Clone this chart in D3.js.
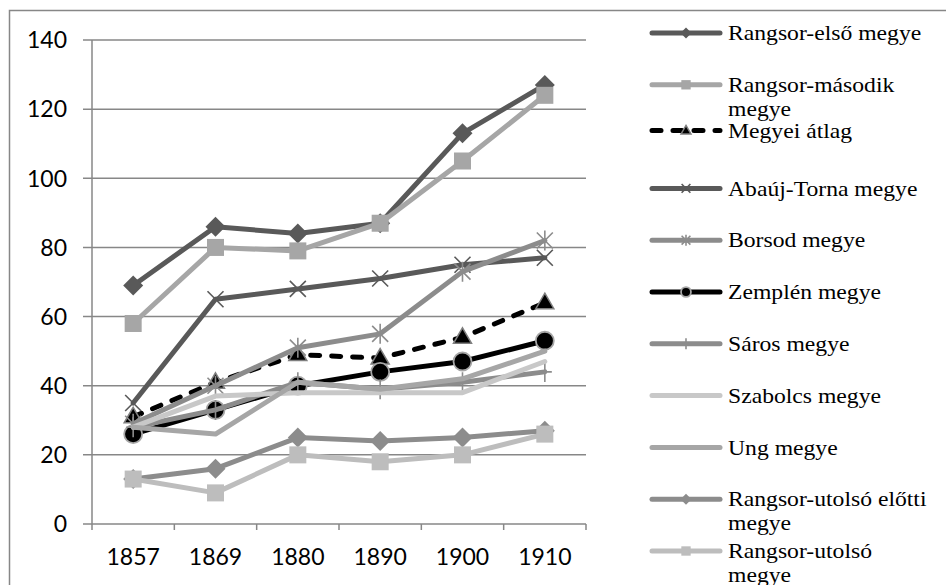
<!DOCTYPE html>
<html>
<head>
<meta charset="utf-8">
<script src="https://cdn.jsdelivr.net/npm/d3@7"></script>
<style>
  body { margin: 0; background: #fff; }
  svg { display: block; }
  .legend-text { font-family: 'Liberation Serif', 'Times New Roman', Times, serif; }
</style>
</head>
<body>
<div class="chart"></div>
<script>
const years = ['1857', '1869', '1880', '1890', '1900', '1910'];
const yTicks = [0, 20, 40, 60, 80, 100, 120, 140];

const seriesNames = [
  'Rangsor-első megye',
  'Rangsor-második megye',
  'Megyei átlag',
  'Abaúj-Torna megye',
  'Borsod megye',
  'Zemplén megye',
  'Sáros megye',
  'Szabolcs megye',
  'Ung megye',
  'Rangsor-utolsó előtti megye',
  'Rangsor-utolsó megye'
];

const elsoValues     = [69, 86, 84, 87, 113, 127];
const masodikValues  = [58, 80, 79, 87, 105, 124];
const atlagValues    = [31, 41, 49, 48, 54, 64];
const abaujValues    = [35, 65, 68, 71, 75, 77];
const borsodValues   = [29, 40, 51, 55, 73, 82];
const zemplenValues  = [26, 33, 40, 44, 47, 53];
const sarosValues    = [28, 33, 41, 39, 41, 44];
const szabolcsValues = [28, 37, 38, 38, 38, 47];
const ungValues      = [28, 26, 41, 39, 42, 50];
const elottiValues   = [13, 16, 25, 24, 25, 27];
const utolsoValues   = [13, 9, 20, 18, 20, 26];

(function() {
  'use strict';

  const width = 946, height = 585,
        left = 92, right = 586, top = 40, bottom = 524,
        grid = '#878787',
        sansFont = 'Lato, sans-serif';

  // style per series, same order as the names
  const styles = [
    { color: '#595959', marker: 'diamond', fill: '#595959' },
    { color: '#a6a6a6', marker: 'square', fill: '#a6a6a6' },
    { color: '#000', marker: 'triangle', fill: '#000', stroke: '#7f7f7f', dash: true },
    { color: '#595959', marker: 'x' },
    { color: '#8c8c8c', marker: 'star' },
    { color: '#000', marker: 'circle', fill: '#000', stroke: '#a6a6a6' },
    { color: '#8c8c8c', marker: 'plus' },
    { color: '#c8c8c8', marker: null },
    { color: '#a6a6a6', marker: null },
    { color: '#8c8c8c', marker: 'diamond', fill: '#8c8c8c' },
    { color: '#bdbdbd', marker: 'square', fill: '#bdbdbd' }
  ];

  const values = [elsoValues, masodikValues, atlagValues, abaujValues, borsodValues,
    zemplenValues, sarosValues, szabolcsValues, ungValues, elottiValues, utolsoValues];

  const series = seriesNames.map((name, i) => ({ name, values: values[i], style: styles[i] }));

  const svg = d3.select('.chart').append('svg')
    .attr('width', width)
    .attr('height', height);

  // outer chart frame
  svg.append('rect')
    .attr('x', 9.5).attr('y', 10.5)
    .attr('width', 1000).attr('height', 1000)
    .attr('fill', 'none')
    .attr('stroke', grid)
    .attr('stroke-width', 1.5);

  const x = d3.scalePoint().domain(years).range([left, right]).padding(0.5),
        xBand = d3.scaleBand().domain(years).range([left, right]),
        y = d3.scaleLinear().domain([0, 140]).range([bottom, top]);

  // gridlines + y ticks
  svg.append('g').selectAll('line')
    .data(yTicks)
    .join('line')
    .attr('x1', left - 9).attr('x2', right)
    .attr('y1', d => y(d)).attr('y2', d => y(d))
    .attr('stroke', grid).attr('stroke-width', 1.5);

  svg.append('g').selectAll('text')
    .data(yTicks)
    .join('text')
    .attr('font-family', sansFont).attr('font-size', 23)
    .attr('x', 67).attr('y', d => y(d))
    .attr('dy', '0.36em')
    .attr('text-anchor', 'end')
    .text(d => d);

  // y axis line
  svg.append('line')
    .attr('x1', left).attr('x2', left)
    .attr('y1', top).attr('y2', bottom + 6)
    .attr('stroke', grid).attr('stroke-width', 1.5);

  // x ticks at category borders
  const borders = years.map(d => xBand(d)).concat([xBand(years[years.length - 1]) + xBand.bandwidth()]);
  svg.append('g').selectAll('line')
    .data(borders.slice(1))
    .join('line')
    .attr('x1', d => d).attr('x2', d => d)
    .attr('y1', bottom).attr('y2', bottom + 6)
    .attr('stroke', grid).attr('stroke-width', 1.5);

  svg.append('g').selectAll('text')
    .data(years)
    .join('text')
    .attr('font-family', sansFont).attr('font-size', 23)
    .attr('x', d => x(d)).attr('y', 557)
    .attr('dy', '0.36em')
    .attr('text-anchor', 'middle')
    .text(d => d);

  /**
   * Draw one marker into g at (cx, cy)
   */
  const drawMarker = (g, st, cx, cy, s) => {
    const r = s / 2;
    switch (st.marker) {
      case 'diamond':
        g.append('path')
          .attr('d', `M${cx},${cy - r}L${cx + r},${cy}L${cx},${cy + r}L${cx - r},${cy}Z`)
          .attr('fill', st.fill);
        break;
      case 'square':
        g.append('rect')
          .attr('x', cx - r * 0.85).attr('y', cy - r * 0.85)
          .attr('width', r * 1.7).attr('height', r * 1.7)
          .attr('fill', st.fill);
        break;
      case 'triangle':
        g.append('path')
          .attr('d', `M${cx},${cy - r * 0.95}L${cx + r * 0.9},${cy + r * 0.6}L${cx - r * 0.9},${cy + r * 0.6}Z`)
          .attr('fill', st.fill)
          .attr('stroke', st.stroke).attr('stroke-width', 1.5);
        break;
      case 'circle':
        g.append('circle')
          .attr('cx', cx).attr('cy', cy).attr('r', r * 0.9)
          .attr('fill', st.fill)
          .attr('stroke', st.stroke).attr('stroke-width', 1.8);
        break;
      case 'x':
        g.append('path')
          .attr('d', `M${cx - r * 0.8},${cy - r * 0.8}L${cx + r * 0.8},${cy + r * 0.8}M${cx + r * 0.8},${cy - r * 0.8}L${cx - r * 0.8},${cy + r * 0.8}`)
          .attr('stroke', st.color).attr('stroke-width', 1.6).attr('fill', 'none');
        break;
      case 'star':
        g.append('path')
          .attr('d', `M${cx - r * 0.8},${cy - r * 0.8}L${cx + r * 0.8},${cy + r * 0.8}M${cx + r * 0.8},${cy - r * 0.8}L${cx - r * 0.8},${cy + r * 0.8}M${cx},${cy - r}L${cx},${cy + r}`)
          .attr('stroke', st.color).attr('stroke-width', 1.6).attr('fill', 'none');
        break;
      case 'plus':
        g.append('path')
          .attr('d', `M${cx - r * 0.7},${cy}L${cx + r * 0.7},${cy}M${cx},${cy - r}L${cx},${cy + r}`)
          .attr('stroke', st.color).attr('stroke-width', 1.6).attr('fill', 'none');
        break;
      default:
        break;
    }
  };

  const line = d3.line()
    .x((d, i) => x(years[i]))
    .y(d => y(d));

  // series, first drawn first
  series.forEach(s => {
    const g = svg.append('g');
    g.append('path')
      .attr('d', line(s.values))
      .attr('fill', 'none')
      .attr('stroke', s.style.color)
      .attr('stroke-width', 5)
      .attr('stroke-linejoin', 'round')
      .attr('stroke-linecap', 'round')
      .attr('stroke-dasharray', s.style.dash ? '9,12' : null);

    s.values.forEach((v, i) => drawMarker(g, s.style, x(years[i]), y(v), 20));
  });

  // legend (text stretched a bit wider, as in the original)
  const legend = svg.append('g'),
        textX = 728, stretch = 1.1, maxW = 210 / stretch;

  series.forEach((s, i) => {
    const ly = 33 + i * 51.8 - (i === 2 ? 6 : 0),
          g = legend.append('g');

    g.append('line')
      .attr('x1', 652).attr('x2', 720)
      .attr('y1', ly).attr('y2', ly)
      .attr('stroke', s.style.color)
      .attr('stroke-width', 5)
      .attr('stroke-linecap', 'round')
      .attr('stroke-dasharray', s.style.dash ? '9,12' : null);

    drawMarker(g, s.style, 686, ly, 11);

    // word wrap the label
    const text = g.append('text')
      .attr('class', 'legend-text')
      .attr('font-size', 21.5)
      .attr('transform', `translate(${textX},${ly}) scale(${stretch},1)`);
    let lineWords = [],
        tspan = text.append('tspan').attr('x', 0).attr('dy', '0.33em');
    s.name.split(' ').forEach(w => {
      lineWords.push(w);
      tspan.text(lineWords.join(' '));
      if (tspan.node().getComputedTextLength() > maxW && lineWords.length > 1) {
        lineWords.pop();
        tspan.text(lineWords.join(' '));
        lineWords = [w];
        tspan = text.append('tspan').attr('x', 0).attr('dy', 24).text(w);
      }
    });
  });
})();
</script>
</body>
</html>
